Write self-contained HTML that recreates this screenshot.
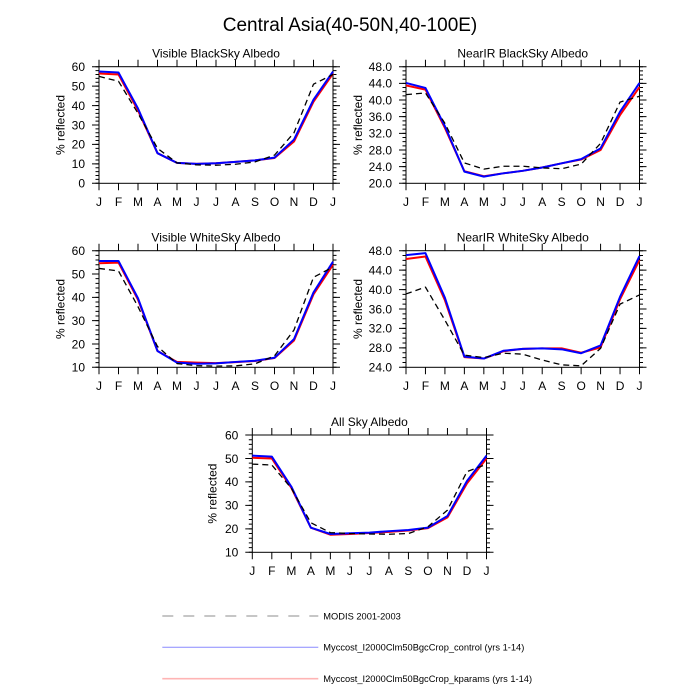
<!DOCTYPE html>
<html><head><meta charset="utf-8"><style>
html,body{margin:0;padding:0;background:#fff;}
svg{display:block;font-family:"Liberation Sans",sans-serif;}
</style></head><body>
<svg width="700" height="700" viewBox="0 0 700 700" xmlns="http://www.w3.org/2000/svg">
<rect width="700" height="700" fill="#fff"/>
<text x="350" y="31" font-size="19" text-anchor="middle">Central Asia(40-50N,40-100E)</text>

<!-- TL -->
<g stroke="#000" fill="none">
<rect x="99" y="66.7" width="234" height="116.6" stroke-width="1"/>
<line x1="97.25" y1="183.8" x2="97.25" y2="66.2" stroke-width="3.5" stroke-dasharray="1 2.887"/>
<line x1="95.5" y1="183.8" x2="95.5" y2="66.2" stroke-width="7" stroke-dasharray="1 18.433"/>
<line x1="334.75" y1="183.8" x2="334.75" y2="66.2" stroke-width="3.5" stroke-dasharray="1 2.887"/>
<line x1="336.5" y1="183.8" x2="336.5" y2="66.2" stroke-width="7" stroke-dasharray="1 18.433"/>
<line x1="98.5" y1="186.8" x2="333.5" y2="186.8" stroke-width="7" stroke-dasharray="1 18.5"/>
<line x1="98.5" y1="63.2" x2="333.5" y2="63.2" stroke-width="7" stroke-dasharray="1 18.5"/>
</g>
<g transform="translate(99,183.3) scale(19.5,-1.9433)" fill="none" stroke-linejoin="round">
<polyline vector-effect="non-scaling-stroke" stroke="#ff0000" stroke-width="2" points="0,56.5 1,56 2,37.5 3,15.5 4,10.5 5,10 6,10.3 7,11 8,11.8 9,13 10,21.5 11,42 12,56.5"/>
<polyline vector-effect="non-scaling-stroke" stroke="#0000ff" stroke-width="2" points="0,57.5 1,57 2,38.5 3,15.5 4,10.5 5,10 6,10.3 7,11 8,11.8 9,13.2 10,22.5 11,43 12,57.5"/>
<polyline vector-effect="non-scaling-stroke" stroke="#000" stroke-width="1.3" stroke-dasharray="6 4" points="0,55 1,52.5 2,36 3,18 4,10.5 5,9.5 6,9.3 7,9.8 8,11 9,14.5 10,26 11,51 12,56"/>
</g>
<g font-size="12">
<text x="216" y="57.5" text-anchor="middle">Visible BlackSky Albedo</text>
<g text-anchor="end">
<text x="85" y="187.6">0</text><text x="85" y="168.2">10</text><text x="85" y="148.7">20</text><text x="85" y="129.3">30</text><text x="85" y="109.9">40</text><text x="85" y="90.4">50</text><text x="85" y="71">60</text>
</g>
<g text-anchor="middle">
<text x="99" y="206">J</text><text x="118.5" y="206">F</text><text x="138" y="206">M</text><text x="157.5" y="206">A</text><text x="177" y="206">M</text><text x="196.5" y="206">J</text><text x="216" y="206">J</text><text x="235.5" y="206">A</text><text x="255" y="206">S</text><text x="274.5" y="206">O</text><text x="294" y="206">N</text><text x="313.5" y="206">D</text><text x="333" y="206">J</text>
</g>
<text transform="translate(64.5,125) rotate(-90)" text-anchor="middle">% reflected</text>
</g>

<!-- TR -->
<g stroke="#000" fill="none">
<rect x="406" y="66.7" width="233.5" height="116.6" stroke-width="1"/>
<line x1="404.25" y1="183.8" x2="404.25" y2="66.2" stroke-width="3.5" stroke-dasharray="1 3.1643"/>
<line x1="402.5" y1="183.8" x2="402.5" y2="66.2" stroke-width="7" stroke-dasharray="1 15.657"/>
<line x1="641.25" y1="183.8" x2="641.25" y2="66.2" stroke-width="3.5" stroke-dasharray="1 3.1643"/>
<line x1="643" y1="183.8" x2="643" y2="66.2" stroke-width="7" stroke-dasharray="1 15.657"/>
<line x1="405.5" y1="186.8" x2="640" y2="186.8" stroke-width="7" stroke-dasharray="1 18.458"/>
<line x1="405.5" y1="63.2" x2="640" y2="63.2" stroke-width="7" stroke-dasharray="1 18.458"/>
</g>
<g transform="translate(406,183.3) scale(19.458,-4.1643)" fill="none" stroke-linejoin="round">
<polyline vector-effect="non-scaling-stroke" stroke="#ff0000" stroke-width="2" points="0,23.5 1,22.5 2,13.3 3,2.9 4,1.7 5,2.4 6,3.0 7,3.8 8,4.8 9,5.7 10,8.0 11,16.4 12,23.1"/>
<polyline vector-effect="non-scaling-stroke" stroke="#0000ff" stroke-width="2" points="0,24.1 1,22.9 2,13.7 3,2.8 4,1.6 5,2.4 6,3.0 7,3.8 8,4.8 9,5.8 10,8.4 11,17.2 12,24.1"/>
<polyline vector-effect="non-scaling-stroke" stroke="#000" stroke-width="1.3" stroke-dasharray="6 4" points="0,21.3 1,21.7 2,14.4 3,4.9 4,3.4 5,4.1 6,4.1 7,3.7 8,3.5 9,4.6 10,9.6 11,19.5 12,20.9"/>
</g>
<g font-size="12">
<text x="522.75" y="57.5" text-anchor="middle">NearIR BlackSky Albedo</text>
<g text-anchor="end">
<text x="392" y="187.6">20.0</text><text x="392" y="170.9">24.0</text><text x="392" y="154.3">28.0</text><text x="392" y="137.6">32.0</text><text x="392" y="121">36.0</text><text x="392" y="104.3">40.0</text><text x="392" y="87.7">44.0</text><text x="392" y="71">48.0</text>
</g>
<g text-anchor="middle">
<text x="406" y="206">J</text><text x="425.46" y="206">F</text><text x="444.92" y="206">M</text><text x="464.37" y="206">A</text><text x="483.83" y="206">M</text><text x="503.29" y="206">J</text><text x="522.75" y="206">J</text><text x="542.21" y="206">A</text><text x="561.67" y="206">S</text><text x="581.12" y="206">O</text><text x="600.58" y="206">N</text><text x="620.04" y="206">D</text><text x="639.5" y="206">J</text>
</g>
<text transform="translate(362,125) rotate(-90)" text-anchor="middle">% reflected</text>
</g>

<!-- ML -->
<g stroke="#000" fill="none">
<rect x="99" y="250.7" width="234" height="116.6" stroke-width="1"/>
<line x1="97.25" y1="367.8" x2="97.25" y2="250.2" stroke-width="3.5" stroke-dasharray="1 3.664"/>
<line x1="95.5" y1="367.8" x2="95.5" y2="250.2" stroke-width="7" stroke-dasharray="1 22.32"/>
<line x1="334.75" y1="367.8" x2="334.75" y2="250.2" stroke-width="3.5" stroke-dasharray="1 3.664"/>
<line x1="336.5" y1="367.8" x2="336.5" y2="250.2" stroke-width="7" stroke-dasharray="1 22.32"/>
<line x1="98.5" y1="370.8" x2="333.5" y2="370.8" stroke-width="7" stroke-dasharray="1 18.5"/>
<line x1="98.5" y1="247.2" x2="333.5" y2="247.2" stroke-width="7" stroke-dasharray="1 18.5"/>
</g>
<g transform="translate(99,367.3) scale(19.5,-2.332)" fill="none" stroke-linejoin="round">
<polyline vector-effect="non-scaling-stroke" stroke="#ff0000" stroke-width="2" points="0,44.6 1,44.9 2,29 3,7 4,2.3 5,2 6,1.8 7,2.2 8,2.7 9,4 10,11.5 11,31.3 12,44"/>
<polyline vector-effect="non-scaling-stroke" stroke="#0000ff" stroke-width="2" points="0,45.6 1,45.6 2,29.6 3,7 4,2 5,1.5 6,1.7 7,2.3 8,2.8 9,4.1 10,12.1 11,32.1 12,45.3"/>
<polyline vector-effect="non-scaling-stroke" stroke="#000" stroke-width="1.3" stroke-dasharray="6 4" points="0,42.4 1,41.3 2,26 3,8.9 4,1.6 5,0.7 6,0.5 7,0.6 8,1.5 9,4.9 10,16 11,38.6 12,43"/>
</g>
<g font-size="12">
<text x="216" y="241.5" text-anchor="middle">Visible WhiteSky Albedo</text>
<g text-anchor="end">
<text x="85" y="371.6">10</text><text x="85" y="348.3">20</text><text x="85" y="325">30</text><text x="85" y="301.6">40</text><text x="85" y="278.3">50</text><text x="85" y="255">60</text>
</g>
<g text-anchor="middle">
<text x="99" y="390">J</text><text x="118.5" y="390">F</text><text x="138" y="390">M</text><text x="157.5" y="390">A</text><text x="177" y="390">M</text><text x="196.5" y="390">J</text><text x="216" y="390">J</text><text x="235.5" y="390">A</text><text x="255" y="390">S</text><text x="274.5" y="390">O</text><text x="294" y="390">N</text><text x="313.5" y="390">D</text><text x="333" y="390">J</text>
</g>
<text transform="translate(64.5,309) rotate(-90)" text-anchor="middle">% reflected</text>
</g>

<!-- MR -->
<g stroke="#000" fill="none">
<rect x="406" y="250.7" width="233.5" height="116.6" stroke-width="1"/>
<line x1="404.25" y1="367.8" x2="404.25" y2="250.2" stroke-width="3.5" stroke-dasharray="1 3.8583"/>
<line x1="402.5" y1="367.8" x2="402.5" y2="250.2" stroke-width="7" stroke-dasharray="1 18.433"/>
<line x1="641.25" y1="367.8" x2="641.25" y2="250.2" stroke-width="3.5" stroke-dasharray="1 3.8583"/>
<line x1="643" y1="367.8" x2="643" y2="250.2" stroke-width="7" stroke-dasharray="1 18.433"/>
<line x1="405.5" y1="370.8" x2="640" y2="370.8" stroke-width="7" stroke-dasharray="1 18.458"/>
<line x1="405.5" y1="247.2" x2="640" y2="247.2" stroke-width="7" stroke-dasharray="1 18.458"/>
</g>
<g transform="translate(406,367.3) scale(19.458,-4.8583)" fill="none" stroke-linejoin="round">
<polyline vector-effect="non-scaling-stroke" stroke="#ff0000" stroke-width="2" points="0,22.3 1,22.8 2,13.8 3,2.1 4,1.8 5,3.3 6,3.8 7,3.9 8,3.9 9,3.0 10,4.1 11,14 12,22.1"/>
<polyline vector-effect="non-scaling-stroke" stroke="#0000ff" stroke-width="2" points="0,23.1 1,23.5 2,14.3 3,2.2 4,1.8 5,3.4 6,3.8 7,3.9 8,3.7 9,2.9 10,4.5 11,14.5 12,22.9"/>
<polyline vector-effect="non-scaling-stroke" stroke="#000" stroke-width="1.3" stroke-dasharray="6 4" points="0,15.1 1,16.5 2,9.7 3,2.5 4,2 5,2.9 6,2.7 7,1.5 8,0.5 9,0.3 10,3.9 11,13 12,14.9"/>
</g>
<g font-size="12">
<text x="522.75" y="241.5" text-anchor="middle">NearIR WhiteSky Albedo</text>
<g text-anchor="end">
<text x="392" y="371.6">24.0</text><text x="392" y="352.2">28.0</text><text x="392" y="332.7">32.0</text><text x="392" y="313.3">36.0</text><text x="392" y="293.9">40.0</text><text x="392" y="274.4">44.0</text><text x="392" y="255">48.0</text>
</g>
<g text-anchor="middle">
<text x="406" y="390">J</text><text x="425.46" y="390">F</text><text x="444.92" y="390">M</text><text x="464.37" y="390">A</text><text x="483.83" y="390">M</text><text x="503.29" y="390">J</text><text x="522.75" y="390">J</text><text x="542.21" y="390">A</text><text x="561.67" y="390">S</text><text x="581.12" y="390">O</text><text x="600.58" y="390">N</text><text x="620.04" y="390">D</text><text x="639.5" y="390">J</text>
</g>
<text transform="translate(362,309) rotate(-90)" text-anchor="middle">% reflected</text>
</g>

<!-- Bottom -->
<g stroke="#000" fill="none">
<rect x="252.3" y="435" width="234.2" height="117.3" stroke-width="1"/>
<line x1="250.55" y1="552.8" x2="250.55" y2="434.5" stroke-width="3.5" stroke-dasharray="1 3.692"/>
<line x1="248.8" y1="552.8" x2="248.8" y2="434.5" stroke-width="7" stroke-dasharray="1 22.46"/>
<line x1="488.25" y1="552.8" x2="488.25" y2="434.5" stroke-width="3.5" stroke-dasharray="1 3.692"/>
<line x1="490" y1="552.8" x2="490" y2="434.5" stroke-width="7" stroke-dasharray="1 22.46"/>
<line x1="251.8" y1="555.8" x2="487" y2="555.8" stroke-width="7" stroke-dasharray="1 18.517"/>
<line x1="251.8" y1="431.5" x2="487" y2="431.5" stroke-width="7" stroke-dasharray="1 18.517"/>
</g>
<g transform="translate(252.3,552.3) scale(19.517,-2.346)" fill="none" stroke-linejoin="round">
<polyline vector-effect="non-scaling-stroke" stroke="#ff0000" stroke-width="2" points="0,40.3 1,40 2,27.5 3,10.5 4,7.5 5,7.8 6,8.2 7,8.7 8,9.3 9,10.3 10,14.9 11,29.4 12,40"/>
<polyline vector-effect="non-scaling-stroke" stroke="#0000ff" stroke-width="2" points="0,41.2 1,40.8 2,28 3,10.5 4,7.8 5,8.1 6,8.4 7,9 8,9.5 9,10.5 10,15.5 11,30.4 12,41.2"/>
<polyline vector-effect="non-scaling-stroke" stroke="#000" stroke-width="1.3" stroke-dasharray="6 4" points="0,37.6 1,37.2 2,27.3 3,12.6 4,8.4 5,8 6,7.8 7,7.7 8,8 9,10.9 10,18 11,34.4 12,37.5"/>
</g>
<g font-size="12">
<text x="369.4" y="425.8" text-anchor="middle">All Sky Albedo</text>
<g text-anchor="end">
<text x="238.3" y="556.6">10</text><text x="238.3" y="533.1">20</text><text x="238.3" y="509.7">30</text><text x="238.3" y="486.2">40</text><text x="238.3" y="462.8">50</text><text x="238.3" y="439.3">60</text>
</g>
<g text-anchor="middle">
<text x="252.3" y="575">J</text><text x="271.82" y="575">F</text><text x="291.33" y="575">M</text><text x="310.85" y="575">A</text><text x="330.37" y="575">M</text><text x="349.89" y="575">J</text><text x="369.4" y="575">J</text><text x="388.92" y="575">A</text><text x="408.44" y="575">S</text><text x="427.95" y="575">O</text><text x="447.47" y="575">N</text><text x="466.99" y="575">D</text><text x="486.5" y="575">J</text>
</g>
<text transform="translate(216.5,493.6) rotate(-90)" text-anchor="middle">% reflected</text>
</g>

<!-- Legend -->
<line x1="162.3" y1="616" x2="318.3" y2="616" stroke="#b4b4b4" stroke-width="1.6" stroke-dasharray="11 10"/>
<line x1="162.3" y1="647.3" x2="318.3" y2="647.3" stroke="#8a8aff" stroke-width="1"/>
<line x1="162.3" y1="678.7" x2="318.3" y2="678.7" stroke="#ffb4b4" stroke-width="1.6"/>
<g font-size="9.3" fill="#000">
<text x="323.3" y="619.3">MODIS 2001-2003</text>
<text x="323.3" y="650.6">Myccost_I2000Clm50BgcCrop_control (yrs 1-14)</text>
<text x="323.3" y="682">Myccost_I2000Clm50BgcCrop_kparams (yrs 1-14)</text>
</g>
</svg>
</body></html>
